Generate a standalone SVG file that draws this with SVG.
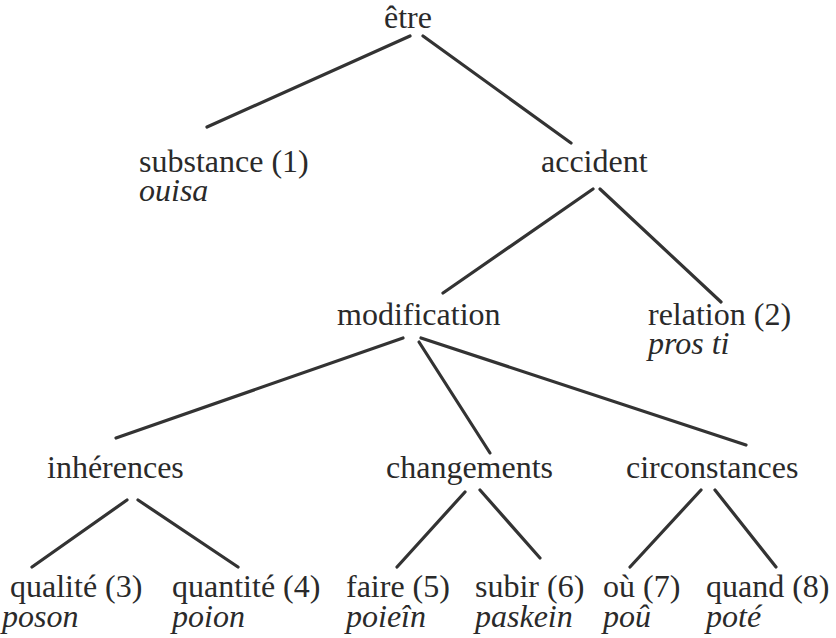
<svg xmlns="http://www.w3.org/2000/svg" width="836" height="638" viewBox="0 0 836 638">
<style>
text{font-family:'Liberation Serif','Times New Roman',serif;font-size:32px;fill:#2a2a2a}
.it{font-style:italic}
#edges line{stroke:#333;stroke-width:3.2;stroke-linecap:round}
</style>
<rect width="836" height="638" fill="#fff"/>
<g id="edges">
<line x1="410" y1="36" x2="207" y2="127"/>
<line x1="423" y1="36" x2="571" y2="143"/>
<line x1="593" y1="189" x2="443" y2="293"/>
<line x1="600" y1="189" x2="721" y2="302"/>
<line x1="403" y1="338" x2="116" y2="438"/>
<line x1="419" y1="342" x2="490" y2="453"/>
<line x1="421" y1="338" x2="746" y2="445"/>
<line x1="127" y1="500" x2="32" y2="567"/>
<line x1="138" y1="500" x2="238" y2="567"/>
<line x1="465" y1="492" x2="397" y2="567"/>
<line x1="480" y1="490" x2="540" y2="558"/>
<line x1="701" y1="490" x2="630" y2="567"/>
<line x1="715" y1="490" x2="776" y2="567"/>
</g>
<g id="etre"><text x="384" y="28">être</text></g>
<g id="substance"><text x="139" y="172">substance (1)</text><text class="it" x="139" y="201">ouisa</text></g>
<g id="accident"><text x="541" y="172">accident</text></g>
<g id="modification"><text x="337" y="325">modification</text></g>
<g id="relation"><text x="648" y="325">relation (2)</text><text class="it" x="648" y="354">pros ti</text></g>
<g id="inherences"><text x="47" y="478">inhérences</text></g>
<g id="changements"><text x="386" y="478">changements</text></g>
<g id="circonstances"><text x="626" y="478">circonstances</text></g>
<g id="qualite"><text x="10" y="597">qualité (3)</text><text class="it" x="2" y="627">poson</text></g>
<g id="quantite"><text x="172" y="597">quantité (4)</text><text class="it" x="172" y="627">poion</text></g>
<g id="faire"><text x="346" y="597">faire (5)</text><text class="it" x="346" y="627">poieîn</text></g>
<g id="subir"><text x="475" y="597">subir (6)</text><text class="it" x="475" y="627">paskein</text></g>
<g id="ou"><text x="603" y="597">où (7)</text><text class="it" x="603" y="627">poû</text></g>
<g id="quand"><text x="706" y="597">quand (8)</text><text class="it" x="706" y="627">poté</text></g>
</svg>
